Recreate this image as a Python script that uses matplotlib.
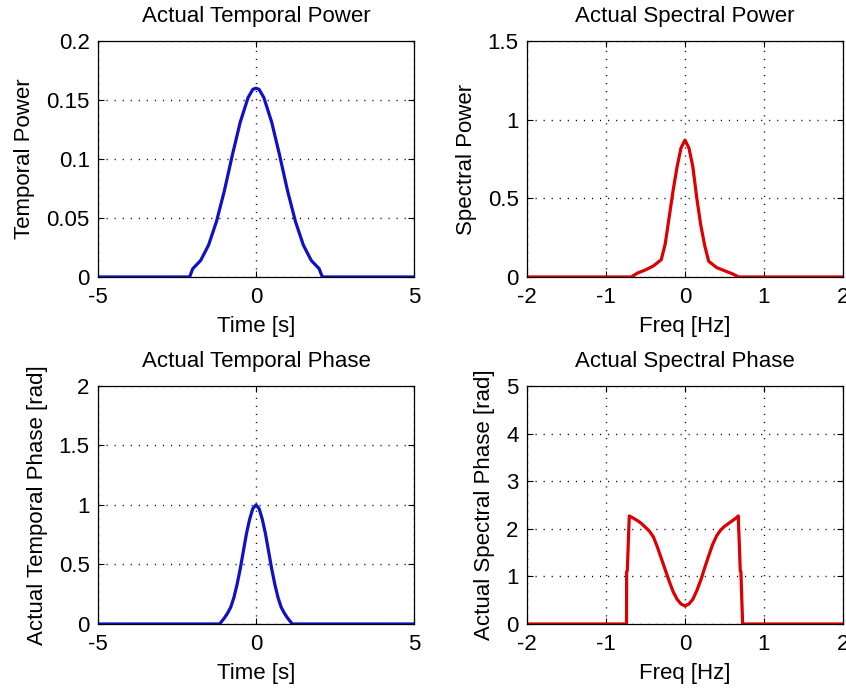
import matplotlib
matplotlib.use('Agg')
import matplotlib.pyplot as plt

# Values
time_power_t = [-5, -2.1, -2.0, -1.75, -1.5, -1.25, -1.0, -0.75, -0.5, -0.25, -0.1, 0,
                0.1, 0.25, 0.5, 0.75, 1.0, 1.25, 1.5, 1.75, 2.0, 2.1, 5]
time_power = [0, 0, 0.007, 0.014, 0.027, 0.047, 0.073, 0.103, 0.131, 0.152, 0.159, 0.160,
              0.159, 0.152, 0.131, 0.103, 0.073, 0.047, 0.027, 0.014, 0.007, 0, 0]

time_phase_t = [-5, -1.15, -1.0, -0.9, -0.8, -0.7, -0.6, -0.5, -0.4, -0.3, -0.2, -0.1, 0,
                0.1, 0.2, 0.3, 0.4, 0.5, 0.6, 0.7, 0.8, 0.9, 1.0, 1.15, 5]
time_phase = [0, 0, 0.05, 0.09, 0.14, 0.22, 0.33, 0.46, 0.61, 0.76, 0.88, 0.97, 1.0,
              0.97, 0.88, 0.76, 0.61, 0.46, 0.33, 0.22, 0.14, 0.09, 0.05, 0, 0]

freq_power_f = [-2, -0.68, -0.6, -0.5, -0.4, -0.3, -0.25, -0.2, -0.15, -0.1, -0.05, 0,
                0.05, 0.1, 0.15, 0.2, 0.25, 0.3, 0.4, 0.5, 0.6, 0.68, 2]
freq_power = [0, 0, 0.025, 0.045, 0.07, 0.11, 0.21, 0.38, 0.55, 0.70, 0.82, 0.87,
              0.82, 0.70, 0.50, 0.33, 0.20, 0.10, 0.06, 0.04, 0.02, 0, 0]

freq_phase_f = [-2, -0.74, -0.738, -0.73, -0.705, -0.65, -0.6, -0.55, -0.5, -0.45, -0.4,
                -0.35, -0.3, -0.25, -0.2, -0.15, -0.1, -0.05, 0,
                0.05, 0.1, 0.15, 0.2, 0.25, 0.3, 0.35, 0.4, 0.45, 0.5, 0.55, 0.6, 0.65,
                0.675, 0.70, 0.708, 0.73, 2]
freq_phase = [0, 0, 1.1, 1.12, 2.27, 2.22, 2.17, 2.11, 2.03, 1.95, 1.83,
              1.62, 1.38, 1.14, 0.90, 0.68, 0.52, 0.42, 0.38,
              0.42, 0.52, 0.70, 0.92, 1.18, 1.43, 1.67, 1.85, 1.97, 2.05, 2.11, 2.17, 2.23,
              2.27, 1.12, 1.1, 0, 0]

plt.rcParams['font.family'] = ['Liberation Sans', 'DejaVu Sans']
plt.rcParams['font.size'] = 16

blue = '#1010c8'
red = '#dd0000'
grid_style = dict(color='black', linestyle=(0, (0.8, 5)), linewidth=1.0)

fig = plt.figure(figsize=(8.46, 6.94), dpi=100)

def setup(ax, xlim, xticks, ylim, yticks, title, xlabel, ylabel):
    ax.set_xlim(xlim)
    ax.set_ylim(ylim)
    ax.set_xticks(xticks)
    ax.set_yticks(yticks)
    ax.set_xticklabels([f'{v:g}' for v in xticks])
    ax.set_yticklabels([f'{v:g}' for v in yticks])
    ax.grid(True, **grid_style)
    ax.tick_params(direction='in', length=4, top=True, right=True, labelsize=16)
    ax.tick_params(axis='x', pad=7)
    ax.tick_params(axis='y', pad=6)
    for s in ax.spines.values():
        s.set_linewidth(0.9)
    ax.set_title(title, fontsize=16, pad=14)
    ax.set_xlabel(xlabel, fontsize=16, labelpad=6)
    ax.set_ylabel(ylabel, fontsize=16, labelpad=8)

ax1 = fig.add_axes([0.1158, 0.6009, 0.3735, 0.340])
ax1.plot(time_power_t, time_power, color=blue, linewidth=2.3)
setup(ax1, (-5, 5), [-5, 0, 5], (0, 0.2), [0, 0.05, 0.1, 0.15, 0.2],
      'Actual Temporal Power', 'Time [s]', 'Temporal Power')

ax2 = fig.add_axes([0.6229, 0.6009, 0.3735, 0.340])
ax2.plot(freq_power_f, freq_power, color=red, linewidth=2.3)
setup(ax2, (-2, 2), [-2, -1, 0, 1, 2], (0, 1.5), [0, 0.5, 1, 1.5],
      'Actual Spectral Power', 'Freq [Hz]', 'Spectral Power')

ax3 = fig.add_axes([0.1158, 0.1009, 0.3735, 0.3429])
ax3.plot(time_phase_t, time_phase, color=blue, linewidth=2.3)
setup(ax3, (-5, 5), [-5, 0, 5], (0, 2), [0, 0.5, 1, 1.5, 2],
      'Actual Temporal Phase', 'Time [s]', 'Actual Temporal Phase [rad]')

ax4 = fig.add_axes([0.6229, 0.1009, 0.3735, 0.3429])
ax4.plot(freq_phase_f, freq_phase, color=red, linewidth=2.3)
setup(ax4, (-2, 2), [-2, -1, 0, 1, 2], (0, 5), [0, 1, 2, 3, 4, 5],
      'Actual Spectral Phase', 'Freq [Hz]', 'Actual Spectral Phase [rad]')

fig.savefig('out.png', dpi=100)
